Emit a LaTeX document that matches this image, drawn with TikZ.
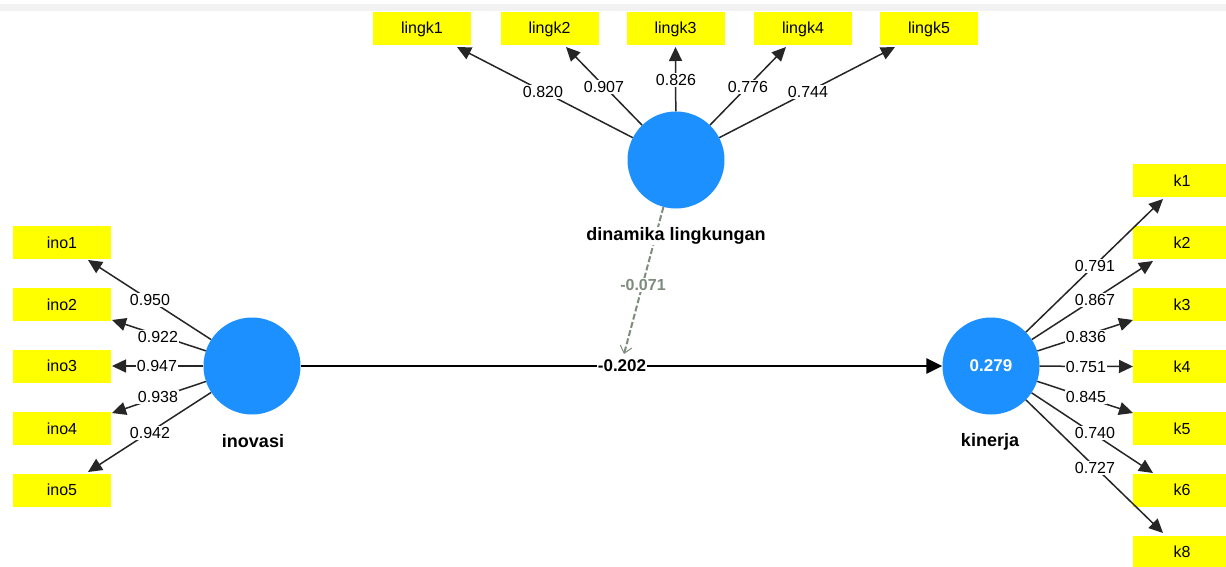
\documentclass[tikz,border=0pt]{standalone}
\usepackage{fontspec}
\setmainfont{Liberation Sans}
\usetikzlibrary{arrows.meta}
\definecolor{lvblue}{RGB}{28,144,255}
\definecolor{indyellow}{RGB}{255,255,0}
\definecolor{modgray}{RGB}{125,140,125}
\definecolor{bandgray}{RGB}{242,242,242}
\begin{document}
\begin{tikzpicture}[x=1pt,y=-1pt,
  ind/.style={rectangle, fill=indyellow, minimum width=98pt, minimum height=33pt, inner sep=0pt, font=\fontsize{16}{18}\selectfont},
  lv/.style={circle, fill=lvblue, minimum size=97pt, inner sep=0pt},
  lvname/.style={font=\fontsize{18}{20}\selectfont\bfseries, fill=white, inner sep=1pt},
  coef/.style={fill=white, inner sep=1pt, font=\fontsize{16}{18}\selectfont},
  ld/.style={draw=black!85, line width=1.5pt, -{Triangle[length=14pt,width=13pt]}},
  structarrow/.style={draw=black, line width=2.5pt, -{Triangle[length=16pt,width=15pt]}},
  modarrow/.style={draw=modgray, line width=2pt, dash pattern=on 6pt off 2.5pt, -{Straight Barb[length=7pt,width=12pt,line width=1pt]}}
]
\useasboundingbox (0,0) rectangle (1226,567);
\fill[white] (0,0) rectangle (1226,567);
\fill[bandgray] (0,4) rectangle (1226,11);

% indicator boxes
\node[ind] (l1) at (422,29) {lingk1};
\node[ind] (l2) at (549.5,29) {lingk2};
\node[ind] (l3) at (675.5,29) {lingk3};
\node[ind] (l4) at (803,29) {lingk4};
\node[ind] (l5) at (929,29) {lingk5};

\node[ind] (i1) at (62,242.5) {ino1};
\node[ind] (i2) at (62,304.5) {ino2};
\node[ind] (i3) at (62,366) {ino3};
\node[ind] (i4) at (62,428.5) {ino4};
\node[ind] (i5) at (62,490) {ino5};

\node[ind] (k1) at (1182,180.5) {k1};
\node[ind] (k2) at (1182,242.5) {k2};
\node[ind] (k3) at (1182,304.5) {k3};
\node[ind] (k4) at (1182,366.5) {k4};
\node[ind] (k5) at (1182,428.5) {k5};
\node[ind] (k6) at (1182,490) {k6};
\node[ind] (k8) at (1182,552) {k8};

% latent variables
\node[lv] (dl) at (676,160) {};
\node[lv] (ino) at (252,366) {};
\node[lv, text=white, font=\fontsize{17}{20}\selectfont\bfseries] (kin) at (991,366) {0.279};

% arrow tips
\coordinate (tl1) at (457,47);
\coordinate (tl2) at (566,47);
\coordinate (tl3) at (675.5,47);
\coordinate (tl4) at (786,47);
\coordinate (tl5) at (895,47);
\coordinate (ti1) at (88,260);
\coordinate (ti2) at (112,320);
\coordinate (ti3) at (112,366);
\coordinate (ti4) at (112,413);
\coordinate (ti5) at (88,472);
\coordinate (tk1) at (1163,199);
\coordinate (tk2) at (1153,261);
\coordinate (tk3) at (1133,320);
\coordinate (tk4) at (1133,366.5);
\coordinate (tk5) at (1133,413);
\coordinate (tk6) at (1153,473);
\coordinate (tk8) at (1163,533);
\coordinate (mt) at (624,354);

% loadings
\foreach \t in {tl1,tl2,tl3,tl4,tl5} \draw[ld] (dl) -- (\t);
\foreach \t in {ti1,ti2,ti3,ti4,ti5} \draw[ld] (ino) -- (\t);
\foreach \t in {tk1,tk2,tk3,tk4,tk5,tk6,tk8} \draw[ld] (kin) -- (\t);

% structural paths
\draw[structarrow] (ino) -- (kin);
\draw[modarrow] (dl) -- (mt);

% coefficient labels
\node[coef] (cl1) at (543,92) {0.820};
\node[coef] (cl2) at (604,87) {0.907};
\node[coef] (cl3) at (676,80) {0.826};
\node[coef] (cl4) at (748,87) {0.776};
\node[coef] (cl5) at (808,92) {0.744};

\node[coef] (ci1) at (150,300) {0.950};
\node[coef] (ci2) at (158,337) {0.922};
\node[coef] (ci3) at (157,366) {0.947};
\node[coef] (ci4) at (158,397) {0.938};
\node[coef] (ci5) at (150,433) {0.942};

\node[coef] (ck1) at (1095,266) {0.791};
\node[coef] (ck2) at (1095,300) {0.867};
\node[coef] (ck3) at (1086,337) {0.836};
\node[coef] (ck4) at (1086,367) {0.751};
\node[coef] (ck5) at (1086,397) {0.845};
\node[coef] (ck6) at (1095,433) {0.740};
\node[coef] (ck8) at (1095,468) {0.727};

\node[lvname, font=\fontsize{17}{20}\selectfont\bfseries] (pc) at (622,366) {-0.202};
\node[lvname, text=modgray, font=\fontsize{16}{20}\selectfont\bfseries] (mc) at (643,285) {-0.071};

% latent variable names
\node[lvname] (dlname) at (676,236) {dinamika lingkungan};
\node[lvname] (inoname) at (253,441) {inovasi};
\node[lvname] (kinname) at (990,442) {kinerja};
\end{tikzpicture}
\end{document}
